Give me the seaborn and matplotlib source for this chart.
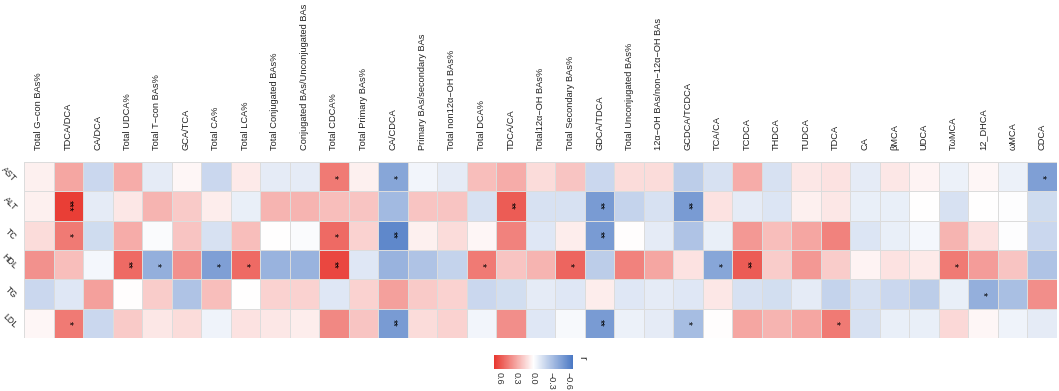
import numpy as np
import pandas as pd
import matplotlib
matplotlib.use("Agg")
import matplotlib.pyplot as plt
import seaborn as sns
from matplotlib.colors import LinearSegmentedColormap

rows = ["AST", "ALT", "TC", "HDL", "TG", "LDL"]
columns = [
    "Total G\u2212con BAs%", "TDCA/DCA", "CA/DCA", "Total UDCA%", "Total T\u2212con BAs%",
    "GCA/TCA", "Total CA%", "Total LCA%", "Total Conjugated BAs%",
    "Conjugated BAs/Unconjugated BAs", "Total CDCA%", "Total Primary BAs%", "CA/CDCA",
    "Primary BAs/secondary BAs", "Total non12\u03b1\u2212OH BAs%", "Total DCA%", "TDCA/CA",
    "Total12\u03b1\u2212OH BAs%", "Total Secondary BAs%", "GDCA/TDCA", "Total Unconjugated BAs%",
    "12\u03b1\u2212OH BAs/non\u221212\u03b1\u2212OH BAs", "GCDCA/TCDCA", "TCA/CA", "TCDCA", "THDCA",
    "TUDCA", "TDCA", "CA", "\u03b2MCA", "UDCA", "T\u03c9MCA", "12_DHCA", "\u03c9MCA", "CDCA",
]

r_AST = [0.05, 0.30, -0.20, 0.28, -0.10, 0.03, -0.20, 0.07, -0.10, -0.10, 0.45, 0.05,
         -0.45, -0.05, -0.10, 0.22, 0.28, 0.12, 0.20, -0.20, 0.12, 0.12, -0.25,
         -0.15, 0.28, -0.15, 0.08, 0.10, -0.10, 0.08, 0.04, -0.07, 0.03, -0.07, -0.48]
r_ALT = [0.05, 0.65, -0.10, 0.08, 0.25, 0.18, 0.06, -0.08, 0.25, 0.25, 0.22, 0.20,
         -0.35, 0.20, 0.20, -0.15, 0.55, -0.15, -0.15, -0.50, -0.22, -0.15, -0.50,
         0.10, -0.10, -0.13, 0.05, 0.08, -0.08, -0.08, 0.00, -0.15, 0.00, -0.01, -0.18]
r_TC = [0.12, 0.45, -0.18, 0.28, -0.02, 0.20, -0.15, 0.22, 0.00, -0.02, 0.50, 0.15,
        -0.60, 0.05, 0.12, 0.03, 0.42, -0.12, 0.06, -0.50, 0.01, -0.10, -0.30,
        -0.08, 0.35, 0.22, 0.30, 0.42, -0.13, -0.08, -0.04, 0.25, 0.10, -0.01, -0.20]
r_HDL = [0.37, 0.22, -0.04, 0.50, -0.40, 0.37, -0.48, 0.50, -0.38, -0.38, 0.62, -0.12,
         -0.38, -0.30, -0.22, 0.45, 0.20, 0.25, 0.52, -0.25, 0.42, 0.30, 0.10,
         -0.45, 0.55, 0.17, 0.35, 0.17, 0.04, 0.10, 0.07, 0.45, 0.33, 0.20, -0.30]
r_TG = [-0.20, -0.12, 0.32, 0.01, 0.17, -0.30, 0.22, 0.00, 0.15, 0.15, -0.12, 0.15,
        0.32, 0.18, 0.15, -0.20, -0.17, -0.10, -0.12, 0.06, -0.12, -0.10, -0.12,
        0.08, -0.15, -0.17, -0.10, -0.22, -0.15, -0.20, -0.25, -0.08, -0.40, -0.32, 0.38]
r_LDL = [0.03, 0.45, -0.20, 0.18, 0.08, 0.12, -0.06, 0.10, 0.08, 0.06, 0.40, 0.20,
         -0.50, 0.12, 0.15, -0.05, 0.38, -0.12, -0.03, -0.50, -0.07, -0.10, -0.33,
         0.01, 0.30, 0.25, 0.30, 0.45, -0.15, -0.08, -0.08, 0.13, 0.03, -0.06, -0.10]

# significance stars (number of '*') per cell
sig_AST = [0, 0, 0, 0, 0, 0, 0, 0, 0, 0, 1, 0, 1, 0, 0, 0, 0, 0, 0, 0, 0, 0, 0,
           0, 0, 0, 0, 0, 0, 0, 0, 0, 0, 0, 1]
sig_ALT = [0, 3, 0, 0, 0, 0, 0, 0, 0, 0, 0, 0, 0, 0, 0, 0, 2, 0, 0, 2, 0, 0, 2,
           0, 0, 0, 0, 0, 0, 0, 0, 0, 0, 0, 0]
sig_TC = [0, 1, 0, 0, 0, 0, 0, 0, 0, 0, 1, 0, 2, 0, 0, 0, 0, 0, 0, 2, 0, 0, 0,
          0, 0, 0, 0, 0, 0, 0, 0, 0, 0, 0, 0]
sig_HDL = [0, 0, 0, 2, 1, 0, 1, 1, 0, 0, 2, 0, 0, 0, 0, 1, 0, 0, 1, 0, 0, 0, 0,
           1, 2, 0, 0, 0, 0, 0, 0, 1, 0, 0, 0]
sig_TG = [0, 0, 0, 0, 0, 0, 0, 0, 0, 0, 0, 0, 0, 0, 0, 0, 0, 0, 0, 0, 0, 0, 0,
          0, 0, 0, 0, 0, 0, 0, 0, 0, 1, 0, 0]
sig_LDL = [0, 1, 0, 0, 0, 0, 0, 0, 0, 0, 0, 0, 2, 0, 0, 0, 0, 0, 0, 2, 0, 0, 1,
           0, 0, 0, 0, 1, 0, 0, 0, 0, 0, 0, 0]

cbar_ticks = [0.6, 0.3, 0.0, -0.3, -0.6]
cbar_labels = ["0.6", "0.3", "0.0", "\u22120.3", "\u22120.6"]

df = pd.DataFrame([r_AST, r_ALT, r_TC, r_HDL, r_TG, r_LDL], index=rows, columns=columns)
sig = np.array([sig_AST, sig_ALT, sig_TC, sig_HDL, sig_TG, sig_LDL])

sns.set_theme(style="white")
plt.rcParams["font.family"] = ["Liberation Sans", "DejaVu Sans"]

cmap = LinearSegmentedColormap.from_list("rwb", ["#4A78C4", "#FFFFFF", "#E8362E"])

W, H = 1059, 391
fig = plt.figure(figsize=(W / 100, H / 100), dpi=100)
ax = fig.add_axes([24 / W, 1 - 338 / H, (1057 - 24) / W, (338 - 162) / H])
cax = fig.add_axes([494 / W, 1 - 369 / H, (573 - 494) / W, (369 - 355) / H])

sns.heatmap(df, ax=ax, cmap=cmap, vmin=-0.68, vmax=0.68, linewidths=0.6,
            linecolor="#dcdcdc", cbar_ax=cax,
            cbar_kws={"orientation": "horizontal", "ticks": cbar_ticks})

for i in range(sig.shape[0]):
    for j in range(sig.shape[1]):
        if sig[i, j] > 0:
            ax.text(j + 0.5, i + 0.5, "*" * int(sig[i, j]), ha="center", va="center",
                    rotation=-90, fontsize=7, color="black")

ax.xaxis.tick_top()
ax.set_xticks(np.arange(len(columns)) + 0.5)
ax.set_xticklabels(columns, rotation=90, fontsize=6.7, color="#222222")
ax.set_yticks(np.arange(len(rows)) + 0.5)
ax.set_yticklabels(rows, rotation=-45, fontsize=6.3, color="#222222", ha="right",
                   va="top", rotation_mode="anchor")
ax.tick_params(axis="x", length=0, pad=9)
ax.tick_params(axis="y", length=0, pad=4)
ax.set_xlabel("")
ax.set_ylabel("")

cax.invert_xaxis()
cax.set_xticks(cbar_ticks)
cax.set_xticklabels(cbar_labels, rotation=-90, fontsize=6.5, color="#333333")
cax.tick_params(axis="x", direction="in", length=3, color="white", pad=2)
for s in cax.spines.values():
    s.set_visible(False)
fig.text(582 / W, 1 - 358 / H, "r", rotation=-90, fontsize=7.5, ha="center", va="center")

fig.savefig("out.png", dpi=100)
